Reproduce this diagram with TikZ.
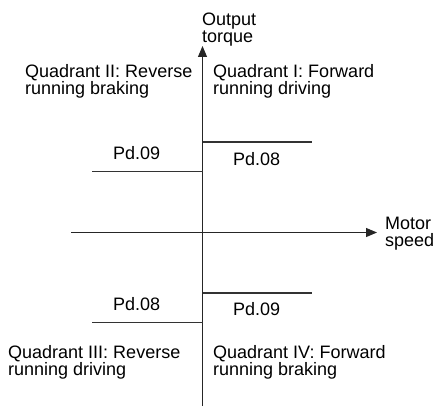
\documentclass[tikz,border=0pt]{standalone}
\usepackage{fontspec}
\setmainfont{Liberation Sans}
\usetikzlibrary{arrows.meta}
\begin{document}
\begin{tikzpicture}[x=1pt,y=-1pt,
  axis/.style={line width=1.2pt,draw=black!85,-{Triangle[length=11pt,width=9pt]}},
  level/.style={line width=1.2pt,draw=black!80},
  lbl/.style={inner sep=0pt,anchor=base west,align=left,font=\fontsize{18}{17}\selectfont}]
\useasboundingbox (0,0) rectangle (435,409);
\coordinate (vb) at (202.5,406);
\coordinate (vt) at (202.5,46);
\coordinate (hl) at (71,232.5);
\coordinate (hr) at (377,232.5);
\draw[axis] (vb) -- (vt);
\draw[axis] (hl) -- (hr);
\coordinate (a1) at (202.5,142); \coordinate (a2) at (312,142);
\coordinate (b1) at (92,171.5); \coordinate (b2) at (202.5,171.5);
\coordinate (c1) at (202.5,293); \coordinate (c2) at (312,293);
\coordinate (d1) at (92,322.5); \coordinate (d2) at (202.5,322.5);
\draw[level] (a1) -- (a2);
\draw[level] (b1) -- (b2);
\draw[level] (c1) -- (c2);
\draw[level] (d1) -- (d2);
\node[lbl] (ot) at (202,43) {Output\\torque};
\node[lbl] (ms) at (385,246) {Motor\\speed};
\node[lbl] (q2) at (25,94) {Quadrant II: Reverse\\running braking};
\node[lbl] (q1) at (213,94) {Quadrant I: Forward\\running driving};
\node[lbl] (q3) at (8,375) {Quadrant III: Reverse\\running driving};
\node[lbl] (q4) at (213,375) {Quadrant IV: Forward\\running braking};
\node[lbl] (p9u) at (113,159) {Pd.09};
\node[lbl] (p8u) at (233,165) {Pd.08};
\node[lbl] (p8l) at (113,310) {Pd.08};
\node[lbl] (p9l) at (233,315) {Pd.09};
\end{tikzpicture}
\end{document}
